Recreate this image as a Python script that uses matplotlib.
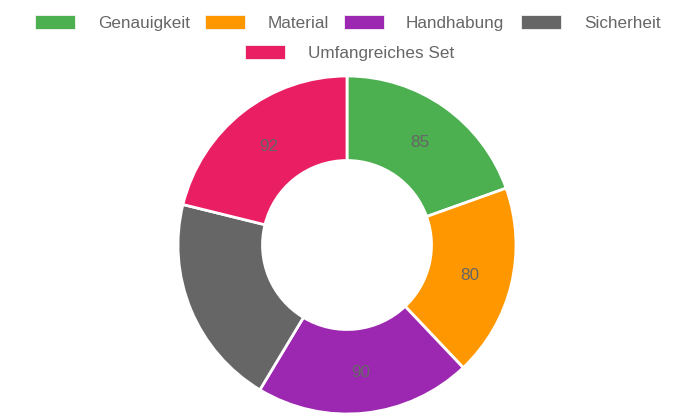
import matplotlib
matplotlib.use("Agg")
import matplotlib.pyplot as plt
import numpy as np
from matplotlib.patches import Rectangle

labels = ["Genauigkeit", "Material", "Handhabung", "Sicherheit", "Umfangreiches Set"]
values = [85, 80, 90, 88, 92]
colors = ["#4CAF50", "#FF9800", "#9C27B0", "#666666", "#E91E63"]

W, H = 695, 417
fig = plt.figure(figsize=(W / 100, H / 100), dpi=100)
plt.rcParams["font.family"] = ["Liberation Sans", "DejaVu Sans"]

cx, cy, r = 347, 245, 169
ax = fig.add_axes([(cx - r) / W, (H - cy - r) / H, 2 * r / W, 2 * r / H])
wedges, texts = ax.pie(
    values,
    colors=colors,
    startangle=90,
    counterclock=False,
    radius=1,
    wedgeprops=dict(width=0.5, edgecolor="white", linewidth=2),
)
ax.set_xlim(-1, 1)
ax.set_ylim(-1, 1)
ax.set_aspect("equal")
ax.axis("off")

for w, v in zip(wedges, values):
    ang = np.deg2rad((w.theta1 + w.theta2) / 2)
    ax.text(0.75 * np.cos(ang), 0.75 * np.sin(ang), str(v),
            ha="center", va="center_baseline", fontsize=12.3, color="#666666")

# legend, drawn by hand in pixel positions (chart.js style)
rows = [
    [(35, 98, 0), (205, 268, 1), (344, 406, 2), (521, 584, 3)],
    [(245, 308, 4)],
]
row_y = [22, 52]
for row, y in zip(rows, row_y):
    for bx, tx, i in row:
        fig.patches.append(Rectangle((bx / W, (H - y - 7) / H), 40 / W, 14 / H,
                                     transform=fig.transFigure, facecolor=colors[i],
                                     edgecolor="#f4f4f4", linewidth=0.6))
        fig.text(tx / W, (H - y) / H, labels[i], ha="left", va="center_baseline",
                 fontsize=12.3, color="#666666")

fig.savefig("out.png", dpi=100)
